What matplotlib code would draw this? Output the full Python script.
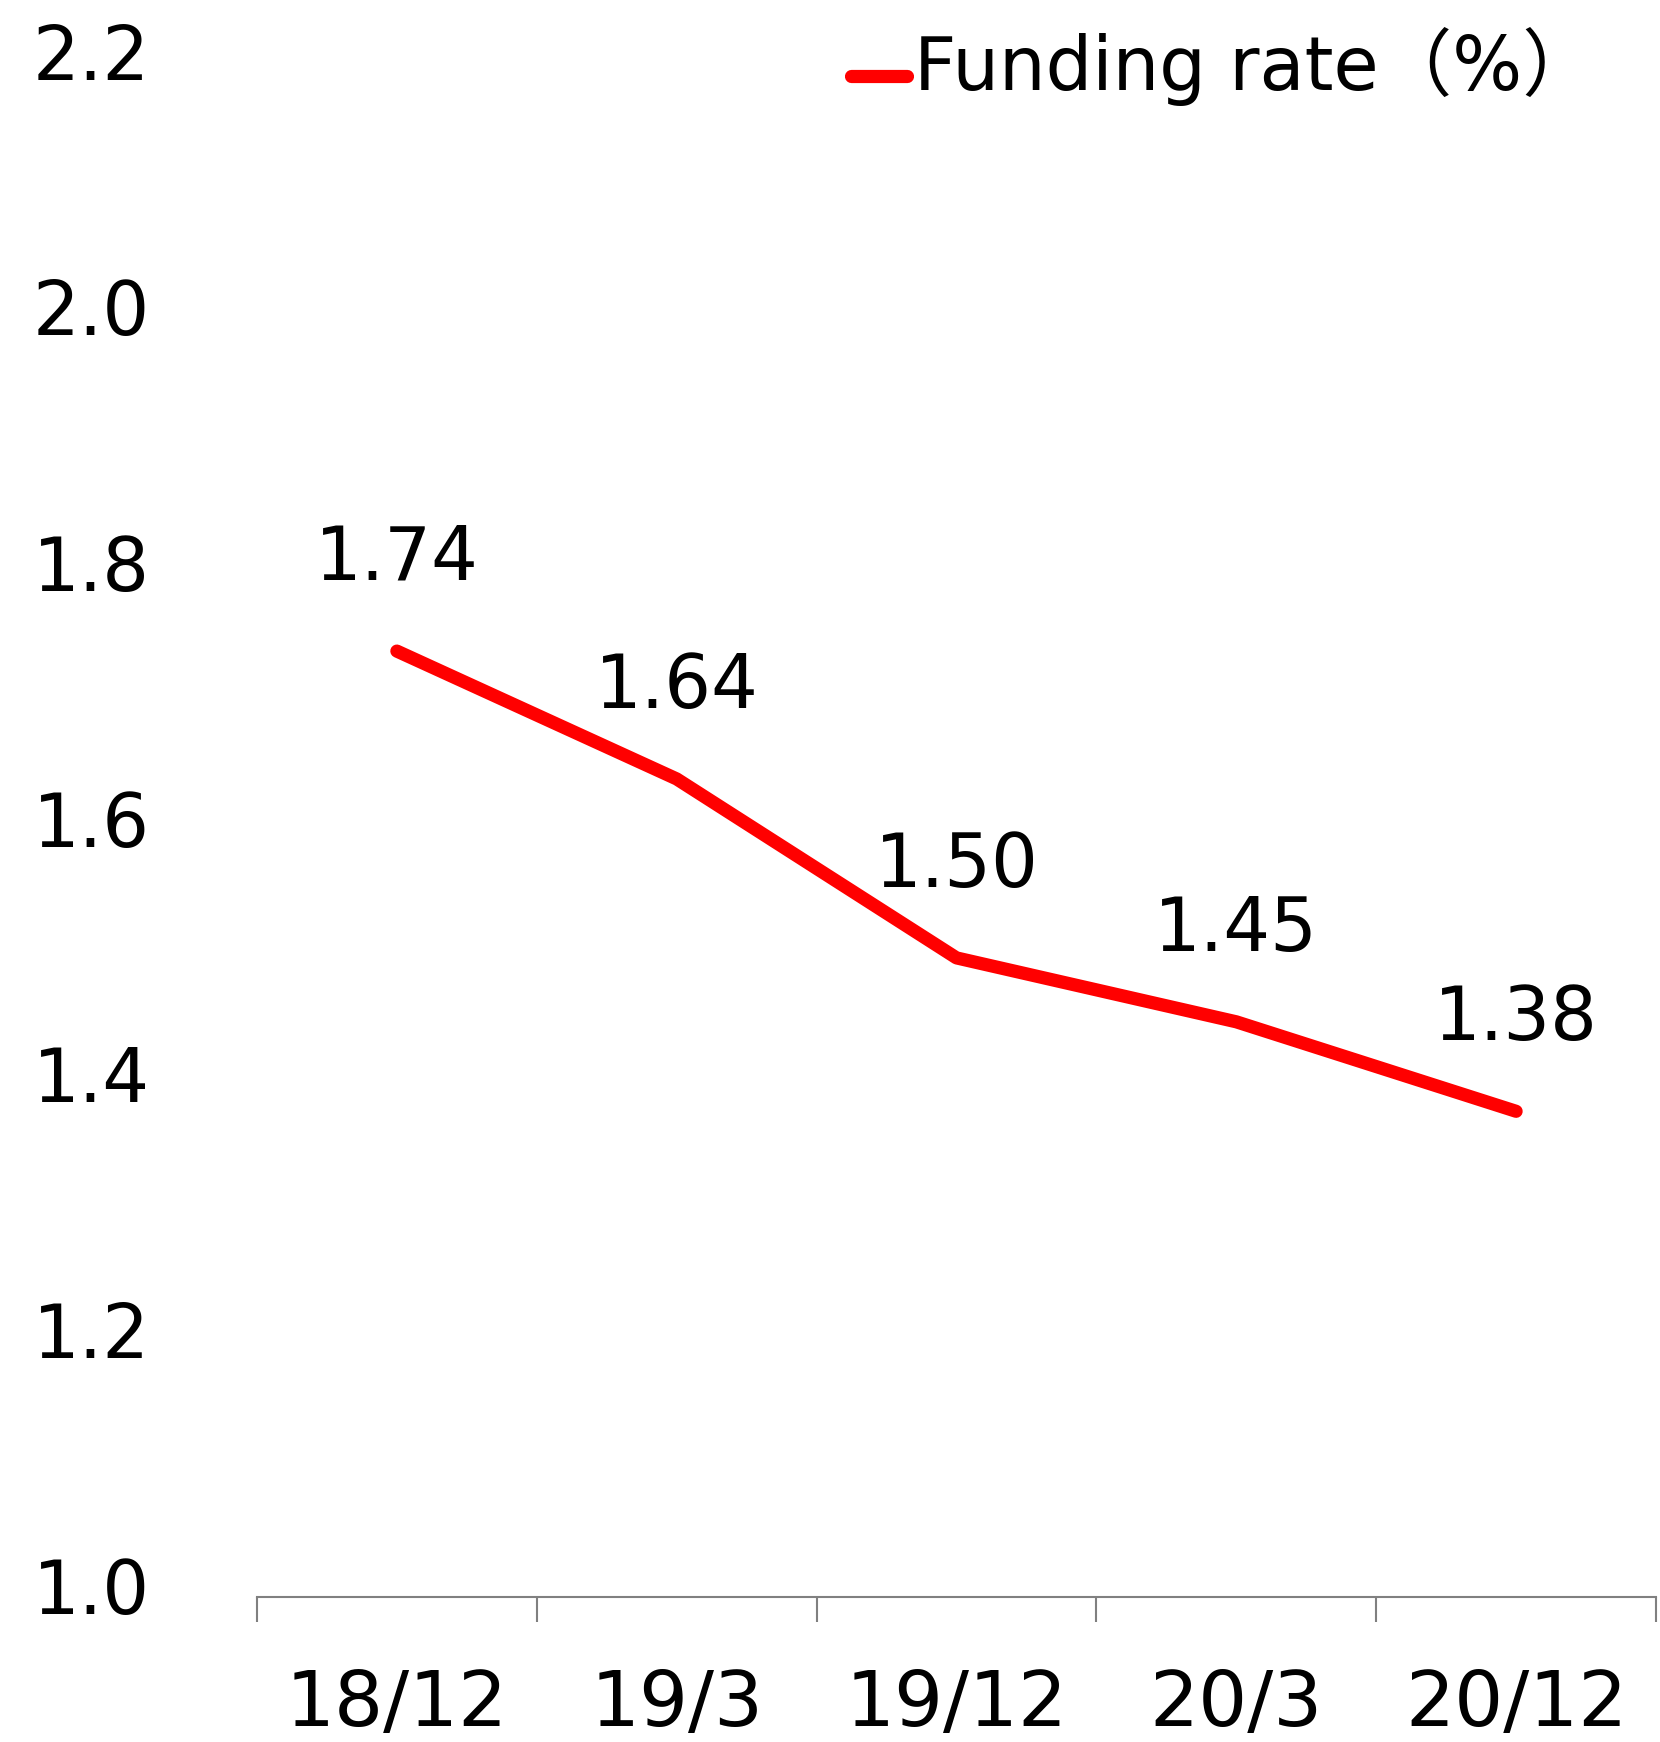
import matplotlib
matplotlib.use("Agg")
import matplotlib.pyplot as plt
import matplotlib.transforms as mtransforms
from matplotlib.lines import Line2D
import numpy as np

periods = ["18/12", "19/3", "19/12", "20/3", "20/12"]
funding_rate = [1.74, 1.64, 1.50, 1.45, 1.38]
y_ticks = [1.0, 1.2, 1.4, 1.6, 1.8, 2.0, 2.2]
series_name = "Funding rate（%）"

plt.rcParams["font.family"] = ["DejaVu Sans", "Noto Sans CJK JP"]

fig = plt.figure(figsize=(16.6, 17.42), dpi=100)
ax = fig.add_axes([0.1548, 0.0832, 0.8428, 0.8806])

x = np.arange(len(periods))
red = "#FF0000"
ax.plot(x, funding_rate, color=red, lw=9.5, solid_capstyle="round",
        solid_joinstyle="round")

for xi, v in zip(x, funding_rate):
    ax.annotate(f"{v:.2f}", (xi, v), xytext=(0, 66), textcoords="offset points",
                ha="center", va="center", fontsize=53, color="black")

ax.set_xlim(-0.5, len(periods) - 0.5)
ax.set_ylim(1.0, 2.2)
ax.set_yticks(y_ticks)
ax.set_yticklabels([f"{t:.1f}" for t in y_ticks])
ax.tick_params(axis="y", length=0, pad=77, labelsize=53)
# lift the value labels a little above their gridline positions
lift = mtransforms.ScaledTranslation(0, 12 / 100, fig.dpi_scale_trans)
for lbl in ax.get_yticklabels():
    lbl.set_transform(lbl.get_transform() + lift)

# category boundary ticks on the x axis, labels centred on categories
ax.set_xticks(np.arange(-0.5, len(periods)), minor=False)
ax.set_xticklabels([""] * (len(periods) + 1))
ax.set_xticks(x, minor=True)
ax.set_xticklabels(periods, minor=True)
ax.tick_params(axis="x", which="major", length=18, width=1.5, color="#808080",
               direction="out")
ax.tick_params(axis="x", which="minor", length=0, pad=51, labelsize=55.5)

for s in ["top", "right", "left"]:
    ax.spines[s].set_visible(False)
ax.spines["bottom"].set_color("#808080")
ax.spines["bottom"].set_linewidth(1.5)

handle = Line2D([0], [0], color=red, lw=9.5, solid_capstyle="round")
leg = ax.legend([handle], [series_name], loc="upper right",
                bbox_to_anchor=(0.978, 1.043), frameon=False, fontsize=53,
                handlelength=0.75, handletextpad=0.1, borderaxespad=0)
# sit the legend swatch a little lower, near the text baseline
drop = mtransforms.ScaledTranslation(0, -12 / 100, fig.dpi_scale_trans)
for ln in leg.get_lines():
    ln.set_transform(ln.get_transform() + drop)

fig.savefig("out.png", dpi=100)
